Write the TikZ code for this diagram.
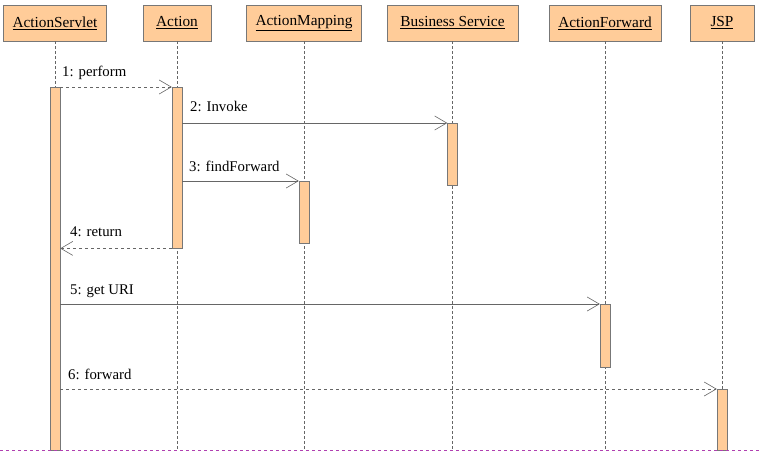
\documentclass[tikz,border=0pt]{standalone}
\usepackage{fontspec}
\setmainfont{Liberation Serif}
\usepackage{xcolor}
\usetikzlibrary{arrows.meta, positioning, calc}
\definecolor{peach}{HTML}{FFCC99}
\definecolor{framegray}{HTML}{777777}
\definecolor{linegray}{HTML}{666666}
\definecolor{edgepurple}{HTML}{B040B0}

\begin{document}
\begin{tikzpicture}[x=1pt, y=-1pt,
  object/.style={rectangle, fill=peach, draw=framegray, inner sep=0pt,
    minimum height=36pt, font=\fontsize{15.3}{17}\selectfont},
  actbar/.style={rectangle, fill=peach, draw=framegray, inner sep=0pt,
    minimum width=10pt, anchor=north},
  lifeline/.style={densely dashed, linegray, thin},
  call/.style={-{Straight Barb[length=12pt, width=14pt]}, linegray, semithick},
  reply/.style={call, dashed},
  msg/.style={anchor=base west, inner sep=0pt, font=\fontsize{14.8}{17}\selectfont}
]
  \useasboundingbox (0,0) rectangle (762,456);

  % objects
  \node[object, minimum width=103pt] (servlet) at (55,23) {\underline{ActionServlet}};
  \node[object, minimum width=68pt] (action) at (177,23) {\underline{Action}};
  \node[object, minimum width=115pt] (mapping) at (304,23) {\underline{ActionMapping}};
  \node[object, minimum width=131pt] (service) at (452.5,23) {\underline{Business Service}};
  \node[object, minimum width=112pt] (forward) at (605,23) {\underline{ActionForward}};
  \node[object, minimum width=64pt] (jsp) at (722,23) {\underline{JSP}};

  % lifelines
  \coordinate (bottom) at (0,450);
  \foreach \obj in {servlet, action, mapping, service, forward, jsp}
    \draw[lifeline] (\obj.south) -- (\obj.south |- bottom);

  % activations
  \node[actbar, minimum height=363pt] (servletbar) at (servlet.south |- 0,87) {};
  \node[actbar, minimum height=161pt] (actionbar) at (action.south |- 0,87) {};
  \node[actbar, minimum height=62pt] (servicebar) at (service.south |- 0,123) {};
  \node[actbar, minimum height=62pt] (mappingbar) at (mapping.south |- 0,181) {};
  \node[actbar, minimum height=63pt] (forwardbar) at (forward.south |- 0,304) {};
  \node[actbar, minimum height=61pt] (jspbar) at (jsp.south |- 0,389) {};

  % messages
  \draw[reply] (servletbar.north east) -- (actionbar.north west);
  \draw[call] (actionbar.east |- servicebar.north) -- (servicebar.north west);
  \draw[call] (actionbar.east |- mappingbar.north) -- (mappingbar.north west);
  \draw[reply] (actionbar.south west) -- (servletbar.east |- actionbar.south);
  \draw[call] (servletbar.east |- forwardbar.north) -- (forwardbar.north west);
  \draw[reply] (servletbar.east |- jspbar.north) -- (jspbar.north west);

  \node[msg] (m1) at (62,76) {1: perform};
  \node[msg] (m2) at (190,111) {2: Invoke};
  \node[msg] (m3) at (189,171) {3: findForward};
  \node[msg] (m4) at (70,236) {4: return};
  \node[msg] (m5) at (70,294) {5: get URI};
  \node[msg] (m6) at (68,379) {6: forward};

  % page edge
  \draw[edgepurple, dashed, thin] (0,450) -- (762,450);
\end{tikzpicture}
\end{document}
